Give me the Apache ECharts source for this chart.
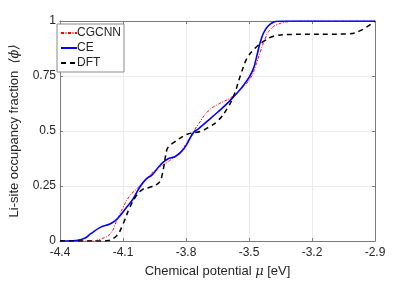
<!DOCTYPE html>
<html><head><meta charset="utf-8">
<script src="https://cdn.jsdelivr.net/npm/echarts@6/dist/echarts.min.js"></script>
<style>html,body{margin:0;padding:0;background:#fff}#c{width:415px;height:283px}</style>
</head><body><div id="c"></div>
<script>
const xTicks = [-4.4, -4.1, -3.8, -3.5, -3.2, -2.9];
const yTicks = [0, 0.25, 0.5, 0.75, 1];
const seriesNames = ['CGCNN', 'CE', 'DFT'];

const cgcnnMu  = [-4.4, -4.255, -4.208, -4.162, -4.130, -4.100, -4.068, -4.037, -4.006, -3.943, -3.905, -3.865, -3.825, -3.764, -3.741, -3.694, -3.648, -3.586, -3.539, -3.492, -3.469, -3.445, -3.422, -3.399, -3.367, -3.311, -3.25, -2.9];
const cgcnnVal = [0, 0, 0.009, 0.032, 0.092, 0.152, 0.205, 0.235, 0.266, 0.326, 0.348, 0.375, 0.407, 0.498, 0.531, 0.591, 0.621, 0.652, 0.689, 0.742, 0.795, 0.863, 0.923, 0.961, 0.983, 0.997, 1, 1];

const ceMu  = [-4.4, -4.35, -4.325, -4.28, -4.255, -4.208, -4.162, -4.138, -4.115, -4.084, -4.053, -4.021, -3.990, -3.959, -3.920, -3.885, -3.849, -3.811, -3.764, -3.741, -3.679, -3.616, -3.570, -3.523, -3.484, -3.461, -3.445, -3.422, -3.391, -3.367, -3.32, -2.9];
const ceVal = [0, 0, 0.002, 0.014, 0.032, 0.062, 0.077, 0.092, 0.114, 0.152, 0.190, 0.243, 0.281, 0.303, 0.348, 0.374, 0.385, 0.418, 0.493, 0.510, 0.561, 0.614, 0.659, 0.712, 0.772, 0.848, 0.908, 0.961, 0.991, 0.999, 1, 1];

const dftMu  = [-4.4, -4.208, -4.177, -4.130, -4.100, -4.068, -4.037, -4.006, -3.975, -3.928, -3.913, -3.891, -3.881, -3.858, -3.797, -3.732, -3.694, -3.648, -3.601, -3.570, -3.539, -3.508, -3.469, -3.429, -3.383, -3.297, -3.031, -2.970, -2.9];
const dftVal = [0, 0, 0.001, 0.024, 0.077, 0.152, 0.205, 0.235, 0.243, 0.266, 0.303, 0.416, 0.430, 0.448, 0.484, 0.498, 0.516, 0.546, 0.606, 0.667, 0.757, 0.833, 0.878, 0.908, 0.931, 0.939, 0.941, 0.956, 1.0];

const X0 = xTicks[0];
const pairs = (mu, v) => mu.map((m, i) => [+(m - X0).toFixed(4), v[i]]);
const FONT = '"Liberation Sans", Arial, Helvetica, sans-serif';
const AX = '#7a7a7a';
const TXT = '#262626';

const chart = echarts.init(document.getElementById('c'), null, {renderer: 'canvas'});
const baseX = {
  type: 'value', min: 0, max: +(xTicks[xTicks.length-1] - X0).toFixed(4), interval: 0.3,
  axisLine: {show: true, onZero: false, lineStyle: {color: AX, width: 1}},
  axisTick: {show: true, inside: true, length: 3, lineStyle: {color: AX}},
  splitLine: {show: false}
};
const baseY = {
  type: 'value', min: yTicks[0], max: yTicks[yTicks.length-1], interval: 0.25,
  axisLine: {show: true, onZero: false, lineStyle: {color: AX, width: 1}},
  axisTick: {show: true, inside: true, length: 3, lineStyle: {color: AX}},
  splitLine: {show: false}
};
chart.setOption({
  animation: false,
  textStyle: {fontFamily: FONT},
  grid: {left: 54, right: 40, top: 21, bottom: 41, containLabel: false},
  legend: {
    data: seriesNames, orient: 'vertical', left: 57, top: 24,
    borderColor: '#8a8a8a', borderWidth: 1, backgroundColor: '#fff',
    padding: [3, 3, 3, 3], itemGap: 3, itemWidth: 16, itemHeight: 12,
    itemStyle: {opacity: 0},
    textStyle: {fontSize: 12, color: TXT, fontFamily: FONT, padding: [0, 0, 0, -5]}
  },
  xAxis: [
    Object.assign({}, baseX, {
      position: 'bottom',
      axisLabel: {show: true, color: TXT, fontSize: 12, margin: 6, fontFamily: FONT,
        formatter: v => (v + X0).toFixed(1)},
      splitLine: {show: true, lineStyle: {color: '#ebebeb', width: 1}},
      name: '{n|Chemical potential }{i|μ}{n| [eV]}', nameLocation: 'middle', nameGap: 24,
      nameTextStyle: {rich: {
        n: {fontSize: 13, color: TXT, fontFamily: FONT},
        i: {fontSize: 13, color: TXT, fontFamily: '"DejaVu Serif", serif', fontStyle: 'italic'}
      }}
    }),
    Object.assign({}, baseX, {position: 'top', axisLabel: {show: false}})
  ],
  yAxis: [
    Object.assign({}, baseY, {
      position: 'left',
      axisLabel: {show: true, color: TXT, fontSize: 12, margin: 4, fontFamily: FONT},
      splitLine: {show: true, lineStyle: {color: '#ebebeb', width: 1}},
      name: '{n|Li-site occupancy fraction  }{i|⟨ϕ⟩}', nameLocation: 'middle', nameGap: 39,
      nameTextStyle: {rich: {
        n: {fontSize: 13, color: TXT, fontFamily: FONT},
        i: {fontSize: 13, color: TXT, fontFamily: '"DejaVu Serif", serif', fontStyle: 'italic'}
      }}
    }),
    Object.assign({}, baseY, {position: 'right', axisLabel: {show: false}})
  ],
  series: [
    {name: seriesNames[0], type: 'line', data: pairs(cgcnnMu, cgcnnVal), showSymbol: false, symbol: 'none',
     smooth: 0.5, z: 3,
     lineStyle: {color: '#ff0000', width: 1, type: [3, 1.5, 1, 1.5]}, itemStyle: {color: '#ff0000'}},
    {name: seriesNames[1], type: 'line', data: pairs(ceMu, ceVal), showSymbol: false, symbol: 'none',
     smooth: 0.5, z: 4,
     lineStyle: {color: '#0000ff', width: 1.6, type: 'solid'}, itemStyle: {color: '#0000ff'}},
    {name: seriesNames[2], type: 'line', data: pairs(dftMu, dftVal), showSymbol: false, symbol: 'none',
     smooth: 0.4, z: 5,
     lineStyle: {color: '#000000', width: 1.5, type: [5, 4]}, itemStyle: {color: '#000000'}}
  ]
});
</script></body></html>
